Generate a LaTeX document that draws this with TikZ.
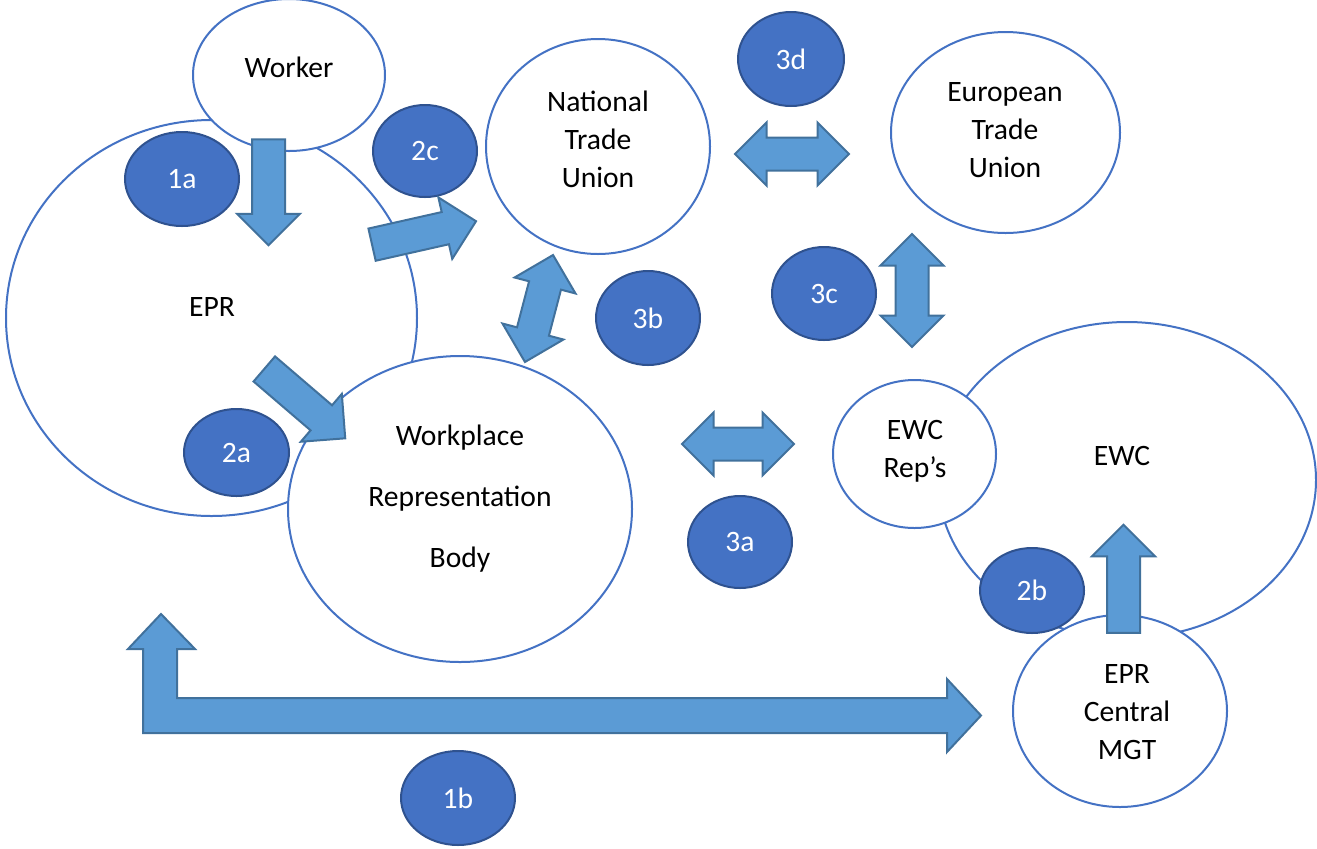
\documentclass[tikz,border=0pt]{standalone}
\usepackage{fontspec}
\setmainfont{Carlito}
\usepackage{tikz}
\usetikzlibrary{shapes.geometric, shapes.arrows}
\definecolor{ring_blue}{HTML}{4472C4}
\definecolor{badge_edge}{HTML}{2F528F}
\definecolor{arrow_blue}{HTML}{5B9BD5}
\definecolor{arrow_edge}{HTML}{41719C}

\tikzset{
  bubble/.style={ellipse, draw=ring_blue, line width=1pt, fill=white, inner sep=0pt},
  lbl/.style={font=\fontsize{14.8}{19}\selectfont, align=center, inner sep=0pt},
  badge/.style={ellipse, draw=badge_edge, fill=ring_blue, line width=1pt, inner sep=0pt,
    text=white, font=\fontsize{14.8}{19}\selectfont},
  block/.style={fill=arrow_blue, draw=arrow_edge, line width=1pt, inner xsep=0pt, inner ysep=7.75pt, minimum width=0pt},
  onearrow/.style={block, single arrow, single arrow head extend=7.5pt, minimum height=#1},
  twoarrow/.style={block, double arrow, double arrow head extend=7.5pt, minimum height=#1}
}

\begin{document}
\begin{tikzpicture}[x=0.5pt, y=-0.5pt]
    \useasboundingbox (0,0) rectangle (1317,848);

    % Left group: EPR with worker and workplace body
    \node[bubble, minimum width=205.5pt, minimum height=198pt] (epr) at (211.5,318) {};
    \node[bubble, minimum width=96pt, minimum height=76pt] (worker) at (289,75) {};
    \node[bubble, minimum width=172pt, minimum height=153pt] (wrb) at (460,509) {};

    % Unions
    \node[bubble, minimum width=112pt, minimum height=107.5pt] (ntu) at (598,146.5) {};
    \node[bubble, minimum width=114.5pt, minimum height=100.5pt] (etu) at (1005.5,132.5) {};

    % Right group: EWC, its reps and central management
    \node[bubble, minimum width=189pt, minimum height=158pt] (ewc) at (1127,480) {};
    \node[bubble, minimum width=81.5pt, minimum height=74pt] (reps) at (914.5,454) {};
    \node[bubble, minimum width=107pt, minimum height=96pt] (mgt) at (1120,711) {};

    % Texts
    \node[lbl] (worker-txt) at (289,67) {Worker};
    \node[lbl] (epr-txt) at (212,307) {EPR};
    \node[lbl] (wrb-txt) at (460,499) {Workplace\\[11.5pt]Representation\\[11.5pt]Body};
    \node[lbl] (ntu-txt) at (598,139) {National\\Trade\\Union};
    \node[lbl] (etu-txt) at (1005,130) {European\\Trade\\Union};
    \node[lbl] (ewc-txt) at (1122,456) {EWC};
    \node[lbl] (reps-txt) at (915,451) {EWC\\Rep’s};
    \node[lbl] (mgt-txt) at (1127,712) {EPR\\Central\\MGT};

    % Step badges
    \node[badge, minimum width=57pt, minimum height=47pt] (s1a) at (182,179) {1a};
    \node[badge, minimum width=52pt, minimum height=46pt] (s2c) at (425,151) {2c};
    \node[badge, minimum width=53pt, minimum height=47pt] (s3d) at (791,59) {3d};
    \node[badge, minimum width=52pt, minimum height=46.5pt] (s3c) at (824,293.5) {3c};
    \node[badge, minimum width=52pt, minimum height=47pt] (s3b) at (648,318) {3b};
    \node[badge, minimum width=52.5pt, minimum height=43.5pt] (s2a) at (236.5,452.5) {2a};
    \node[badge, minimum width=52pt, minimum height=46pt] (s3a) at (740,542) {3a};
    \node[badge, minimum width=52pt, minimum height=42.5pt] (s2b) at (1032,590.5) {2b};
    \node[badge, minimum width=57pt, minimum height=47pt] (s1b) at (458,798) {1b};

    % Block arrows
    \node[onearrow=53pt, rotate=-90] (a1a) at (268.5,184) {};
    \node[onearrow=53.3pt, rotate=12.7] (a2c) at (416,234.75) {};
    \node[onearrow=53.3pt, rotate=-40.6] (a2a) at (298.5,398.25) {};
    \node[onearrow=54pt, rotate=90] (a2b) at (1123.5,587) {};
    \node[twoarrow=55.3pt, rotate=75.3] (a3b) at (539,308.5) {};
    \node[twoarrow=57pt] (a3d) at (792,154) {};
    \node[twoarrow=56.5pt, rotate=90] (a3c) at (912,290.5) {};
    \node[twoarrow=56pt] (a3a) at (738,444) {};

    % Bent arrow along the bottom
    \draw[fill=arrow_blue, draw=arrow_edge, line width=1pt]
      (143,733) -- (143,649) -- (128,649) -- (161,614) -- (195,649) -- (177,649)
      -- (177,698) -- (947,698) -- (947,679) -- (981,715.5) -- (947,752) -- (947,733) -- cycle;
\end{tikzpicture}
\end{document}
